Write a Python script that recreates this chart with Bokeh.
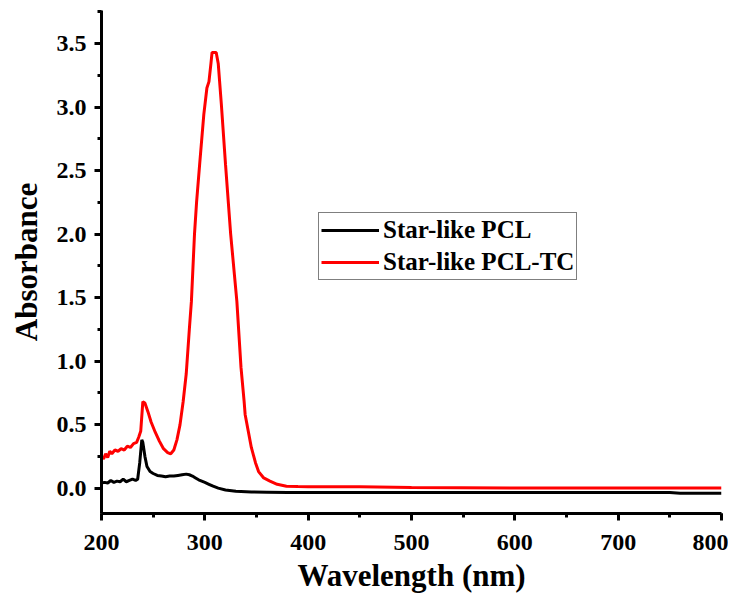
from bokeh.plotting import figure
from bokeh.models import Range1d, SingleIntervalTicker, NumeralTickFormatter, Legend, LegendItem
from bokeh.embed import file_html
from bokeh.resources import INLINE

# Star-like PCL (black)
pcl_wl = [200, 203, 206, 209, 212, 215, 218, 221, 224, 227, 230, 233, 235, 237, 239, 240,
          242, 244, 247, 250, 254, 258, 262, 266, 270, 274, 278, 282, 285, 288, 291, 294,
          297, 300, 304, 308, 313, 320, 330, 345, 360, 380, 400, 450, 500, 550, 600, 650,
          700, 750, 760, 780, 800]
pcl_abs = [0.04, 0.045, 0.04, 0.06, 0.045, 0.055, 0.05, 0.07, 0.05, 0.06, 0.07, 0.06, 0.07,
           0.20, 0.38, 0.36, 0.25, 0.17, 0.13, 0.115, 0.10, 0.095, 0.09, 0.095, 0.095, 0.10,
           0.105, 0.11, 0.105, 0.095, 0.08, 0.065, 0.055, 0.045, 0.03, 0.015, 0.0, -0.015,
           -0.025, -0.03, -0.032, -0.035, -0.035, -0.035, -0.035, -0.035, -0.035, -0.035,
           -0.035, -0.035, -0.04, -0.04, -0.04]

# Star-like PCL-TC (red)
tc_wl = [200, 202, 204, 206, 208, 210, 213, 216, 219, 222, 225, 228, 231, 234, 236, 238,
         240, 242, 245, 248, 252, 256, 260, 264, 267, 270, 273, 276, 279, 282, 285, 287,
         290, 292, 295, 299, 302, 304, 306, 307, 309, 311, 313, 316, 320, 325, 331, 335,
         338, 339, 342, 345, 349, 352, 357, 363, 370, 379, 390, 400, 450, 500, 600, 700, 800]
tc_abs = [0.25, 0.23, 0.27, 0.24, 0.29, 0.27, 0.30, 0.29, 0.31, 0.30, 0.33, 0.32, 0.35,
          0.36, 0.40, 0.45, 0.68, 0.67, 0.60, 0.52, 0.44, 0.37, 0.31, 0.28, 0.27, 0.30,
          0.38, 0.50, 0.68, 0.90, 1.25, 1.47, 2.00, 2.25, 2.55, 2.94, 3.15, 3.20, 3.35,
          3.43, 3.43, 3.43, 3.34, 3.02, 2.55, 2.00, 1.47, 0.95, 0.685, 0.58, 0.45, 0.32,
          0.20, 0.13, 0.08, 0.055, 0.03, 0.015, 0.012, 0.01, 0.01, 0.005, 0.0, 0.0, 0.0]

x_ticks_interval = 100
y_ticks_interval = 0.5

FONT = "Liberation Serif"

p = figure(width=728, height=595, output_backend="svg", toolbar_location=None,
           x_range=Range1d(200, 800), y_range=Range1d(-0.2, 3.76),
           min_border_left=101, min_border_right=7, min_border_top=10, min_border_bottom=82)
p.outline_line_color = None
p.xgrid.visible = False
p.ygrid.visible = False
p.background_fill_color = "white"

r1 = p.line(pcl_wl, pcl_abs, line_color="black", line_width=3)
r2 = p.line(tc_wl, tc_abs, line_color="#ff0000", line_width=3)

for ax in (p.xaxis[0], p.yaxis[0]):
    ax.axis_line_width = 3
    ax.major_tick_line_width = 3
    ax.minor_tick_line_width = 3
    ax.major_tick_out = 7
    ax.major_tick_in = 0
    ax.minor_tick_out = 4
    ax.minor_tick_in = 0
    ax.major_label_text_font = FONT
    ax.major_label_text_font_style = "bold"
    ax.major_label_text_font_size = "24px"
    ax.major_label_text_color = "black"
    ax.axis_label_text_font = FONT
    ax.axis_label_text_font_style = "bold"
    ax.axis_label_text_font_size = "31px"
    ax.axis_label_text_color = "black"

p.xaxis.ticker = SingleIntervalTicker(interval=x_ticks_interval, num_minor_ticks=2)
p.yaxis.ticker = SingleIntervalTicker(interval=y_ticks_interval, num_minor_ticks=2)
p.yaxis.formatter = NumeralTickFormatter(format="0.0")
p.xaxis.axis_label = "Wavelength (nm)"
p.yaxis.axis_label = "Absorbance"
p.xaxis.major_label_standoff = 14
p.yaxis.major_label_standoff = 8
p.xaxis.axis_label_standoff = 5
p.yaxis.axis_label_standoff = 10

legend = Legend(items=[LegendItem(label="Star-like PCL", renderers=[r1]),
                       LegendItem(label="Star-like PCL-TC", renderers=[r2])],
                location=(217, 233))
legend.label_text_font = FONT
legend.label_text_font_style = "bold"
legend.label_text_font_size = "25px"
legend.label_text_color = "black"
legend.glyph_width = 58
legend.glyph_height = 30
legend.label_height = 30
legend.label_standoff = 4
legend.spacing = 2
legend.padding = 2
legend.margin = 0
legend.border_line_color = "black"
legend.border_line_width = 1
legend.background_fill_alpha = 1
p.add_layout(legend, "center")

open("out.html", "w").write(file_html(p, INLINE))
